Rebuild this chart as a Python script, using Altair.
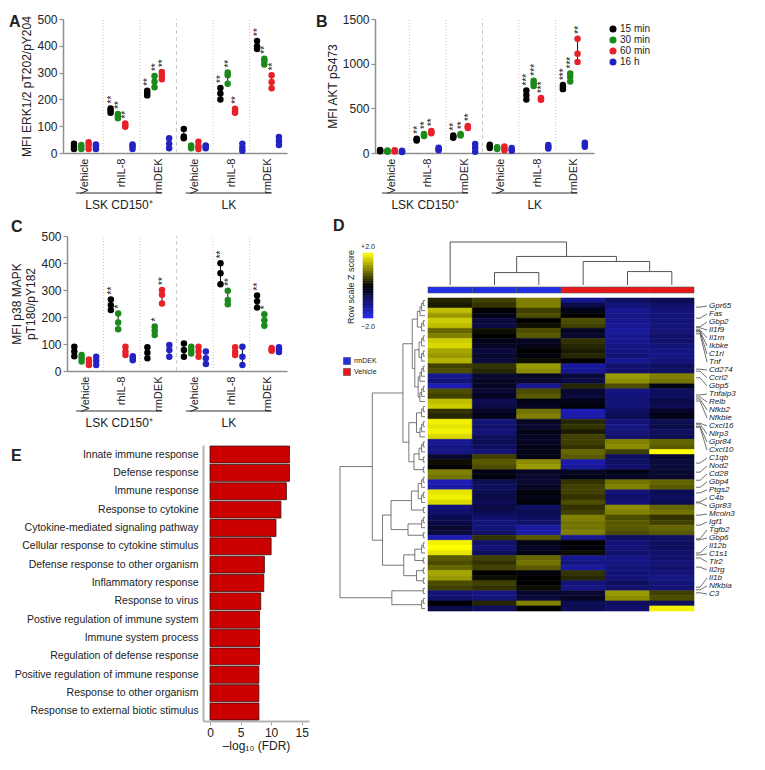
import altair as alt
import pandas as pd
import numpy as np

W, H = 749, 754
FONT = "Liberation Sans"
TXT = "#222222"
AXC = "#8f8f8f"


def P(v):
    """page pixel -> chart pixel (page has an 8px margin)"""
    return v - 8


# ---------------------------------------------------------------- data
times = ["15 min", "30 min", "60 min", "16 h"]
time_colors = ["#000000", "#1b8a1b", "#e8202a", "#2323c4"]
conditions = ["Vehicle", "rhIL-8", "rmDEK"]
cell_types = ["LSK CD150\u207a", "LK"]

# replicate triplets; order: cell type -> condition -> time point
erk_values = [
    [15, 25, 35], [15, 22, 30], [15, 30, 40], [15, 25, 32],
    [150, 158, 166], [130, 138, 146], [98, 104, 110], [15, 25, 32],
    [215, 224, 232], [245, 266, 287], [275, 288, 302], [18, 35, 55],
    [55, 62, 90], [18, 22, 28], [15, 25, 42], [18, 24, 28],
    [200, 222, 243], [258, 290, 300], [150, 158, 165], [8, 20, 35],
    [388, 398, 418], [330, 343, 352], [242, 265, 290], [30, 45, 60],
]
erk_stars = ["", "", "", "",
             "**", "**", "**", "",
             "**", "**", "**", "",
             "", "", "", "",
             "**", "**", "**", "",
             "**", "**", "**", ""]

akt_values = [
    [20, 28, 35], [15, 22, 28], [18, 25, 30], [12, 18, 24],
    [140, 150, 160], [190, 200, 212], [220, 232, 245], [30, 45, 60],
    [170, 182, 195], [195, 203, 212], [280, 292, 302], [15, 60, 100],
    [55, 75, 92], [45, 55, 65], [30, 50, 72], [25, 40, 55],
    [600, 650, 700], [750, 780, 810], [595, 605, 615], [50, 70, 90],
    [715, 740, 760], [800, 850, 890], [1020, 1110, 1280], [70, 95, 115],
]
akt_stars = ["", "", "", "",
             "**", "**", "**", "",
             "**", "**", "**", "",
             "", "", "", "",
             "***", "***", "***", "",
             "***", "***", "**", ""]

p38_values = [
    [55, 72, 90], [35, 47, 59], [22, 31, 43], [22, 38, 53],
    [226, 244, 265], [155, 180, 213], [59, 72, 90], [40, 48, 55],
    [47, 68, 88], [133, 150, 165], [250, 282, 300], [53, 78, 96],
    [53, 78, 102], [65, 78, 90], [53, 72, 90], [26, 47, 72],
    [321, 362, 399], [247, 263, 297], [59, 70, 88], [22, 53, 90],
    [235, 258, 280], [168, 188, 210], [75, 80, 85], [70, 78, 88],
]
p38_stars = ["", "", "", "",
             "**", "*", "", "",
             "", "*", "**", "",
             "", "", "", "",
             "**", "**", "", "",
             "**", "*", "", ""]

go_terms = [
    "Innate immune response", "Defense response", "Immune response",
    "Response to cytokine", "Cytokine-mediated signaling pathway",
    "Cellular response to cytokine stimulus",
    "Defense response to other organism", "Inflammatory response",
    "Response to virus", "Postive regulation of immune system",
    "Immune system process", "Regulation of defense response",
    "Positive regulation of immune response", "Response to other organism",
    "Response to external biotic stimulus",
]
go_fdr = [13.0, 13.0, 12.5, 11.6, 10.8, 10.0, 8.9, 8.8, 8.3, 8.1, 8.1, 8.1,
          8.0, 8.0, 8.0]

heat_samples = ["rmDEK", "rmDEK", "rmDEK", "Vehicle", "Vehicle", "Vehicle"]
heat_rows = [
    [0.3, 0.5, 1.0, -1.2, -0.8, -0.7], [0.2, 0.4, 1.0, -0.6, -1.0, -0.9],
    [1.5, 0.0, 0.5, -0.2, -1.2, -1.0], [1.2, -0.2, 0.6, 0.0, -1.1, -1.0],
    [1.6, -0.5, 0.0, 0.6, -1.2, -1.0], [1.5, -0.6, 0.1, 0.5, -1.2, -1.0],
    [0.8, 0.1, 0.6, -0.3, -1.3, -1.0], [1.0, 0.0, 0.7, -0.4, -1.2, -0.9],
    [1.6, -0.2, -0.3, 0.4, -1.2, -0.9], [1.7, -0.3, -0.2, 0.3, -1.1, -1.0],
    [1.3, -0.5, 0.0, 0.2, -1.1, -1.1], [1.2, -0.4, -0.1, 0.3, -1.0, -1.1],
    [1.4, -0.5, 0.1, 0.0, -1.2, -1.0], [0.5, 0.4, 1.2, -1.3, -0.9, -0.8],
    [0.6, 0.3, 1.1, -1.2, -0.9, -0.8], [-1.2, -0.4, -0.3, -0.5, 1.2, 1.0],
    [-1.0, -0.3, -0.4, -0.6, 1.1, 0.9], [-1.5, -0.3, -1.2, 0.3, 0.6, -0.2],
    [0.6, -0.4, 0.6, -0.4, -1.1, -0.8], [0.5, -0.3, 0.7, -0.5, -1.0, -0.8],
    [1.5, -0.7, -0.2, -0.2, -1.0, -0.6], [1.6, -0.6, -0.3, -0.1, -1.0, -0.7],
    [0.4, -0.3, 0.9, -1.5, -0.8, -0.3], [0.3, -0.2, 1.0, -1.4, -0.7, -0.2],
    [1.9, -1.0, -0.3, 0.3, -1.0, -0.7], [1.8, -0.9, -0.4, 0.4, -1.1, -0.6],
    [1.9, -1.0, -0.2, 0.2, -1.0, -0.8], [1.7, -0.8, -0.3, 0.5, -0.9, -0.7],
    [-1.2, -0.7, -0.3, 0.5, 1.0, 0.8], [-1.1, -0.8, -0.2, 0.4, 1.1, 0.7],
    [-1.1, -1.0, -0.2, 0.8, 0.5, 2.0], [-0.4, 0.5, -0.2, 0.7, -0.8, -0.4],
    [0.1, 0.7, 1.1, -1.4, -0.8, -0.5], [0.0, 0.6, 1.2, -1.3, -0.9, -0.5],
    [1.0, -0.2, -0.3, -0.3, -0.2, -0.4], [0.9, -0.1, -0.4, -0.2, -0.3, -0.4],
    [-1.5, -0.7, -0.4, 0.4, 0.9, 0.8], [-1.4, -0.8, -0.3, 0.5, 1.0, 0.7],
    [1.8, -0.7, -0.1, 0.5, -1.0, -0.7], [1.9, -0.6, -0.2, 0.4, -0.9, -0.8],
    [1.7, -0.7, -0.1, 0.6, -1.0, -0.7], [-1.0, -0.6, -0.8, 0.4, 1.1, 0.8],
    [-0.9, -0.7, -0.7, 0.5, 1.0, 0.9], [-0.7, -0.9, -0.8, 1.0, 0.6, 0.4],
    [-0.6, -1.0, -0.9, 0.9, 0.7, 0.5], [-0.4, -1.0, -1.3, 0.9, 0.7, 0.8],
    [-0.5, -0.9, -1.4, 1.0, 0.6, 0.7], [-1.5, 0.4, 0.7, -1.2, -0.8, -0.8],
    [1.9, -0.9, -0.2, 0.0, -1.0, -0.8], [2.0, -1.0, -0.3, -0.1, -1.0, -0.8],
    [1.8, -0.8, -0.2, 0.1, -0.9, -0.9], [0.7, 0.5, 0.8, -1.2, -1.1, -0.9],
    [0.6, 0.4, 0.9, -1.1, -1.1, -1.0], [0.8, 0.5, 0.7, -1.3, -1.0, -0.9],
    [1.3, 0.0, -0.1, 0.4, -1.0, -1.0], [1.2, 0.1, 0.0, 0.3, -1.0, -1.1],
    [0.6, 0.5, 0.0, -1.0, -0.8, -1.0], [0.5, 0.4, 0.1, -1.1, -0.9, -1.0],
    [-1.0, -1.1, -0.4, -0.4, 1.2, 0.5], [-0.9, -1.0, -0.5, -0.3, 1.1, 0.6],
    [0.0, 0.3, 1.0, -0.7, -0.8, -0.8], [-0.6, -0.8, 0.0, -0.7, -0.9, 1.9],
]

# dendrograms: (merge height, left, right); an int n = n adjacent leaves
col_tree = (128, 1, (85, (37, 1, 1), (70, 1, (40, 1, 1))))
row_tree = (1.0,
            (0.62,
             (0.26,
              (0.15, (0.09, 4, 3), (0.12, (0.07, 3, 3), (0.08, 4, 4))),
              (0.19, (0.10, 3, 4), (0.13, (0.07, 3, 2), 2))),
             (0.50,
              (0.40, (0.16, (0.08, 3, 3), 2), (0.20, 3, 2)),
              (0.25, (0.12, 3, 2), (0.10, 2, 2)))),
            (0.39, 2, 3))

gene_labels = ["Gpr65", "Fas", "Gbp2", "Il1f9", "Il1rn", "Ikbke", "C1rl", "Tnf",
               "Cd274", "Ccrl2", "Gbp5", "Tnfaip3", "Relb", "Nfkb2", "Nfkbie",
               "Cxcl16", "Nlrp3", "Gpr84", "Cxcl10", "C1qb", "Nod2", "Cd28",
               "Gbp4", "Ptgs2", "C4b", "Gpr83", "Mcoln3", "Igf1", "Tgfb2",
               "Gbp6", "Il12b", "C1s1", "Tlr2", "Il2rg", "Il1b", "Nfkbia", "C3"]
gene_rows = [1.8, 4.0, 5.7, 5.9, 6.3, 6.5, 6.7, 7.1, 14.1, 14.5, 15.8, 19.2,
             19.6, 20.0, 20.4, 24.8, 25.0, 25.4, 25.6, 32.7, 34.5, 36.1, 37.5,
             38.6, 40.4, 40.6, 43.0, 45.0, 47.7, 47.9, 50.5, 50.9, 51.5, 53.3,
             57.3, 57.8, 58.4]

# ---------------------------------------------------------------- helpers
label_expr = "[" + ",".join("'%s'" % c for c in conditions * 2) + "][floor(datum.value)]"


def one():
    return alt.Data(values=[{"k": 0}])


def dot_panel(values, stars, ymax, ystep, ytitle, ytop, ybase, xdom, xleft, xright,
              under_y, label_y, legend):
    rows, summ = [], []
    for gi in range(6):
        for ti in range(4):
            trip = values[gi * 4 + ti]
            pos = gi + 0.5 + (ti - 1.5) * 0.2
            for v in trip:
                rows.append({"pos": pos, "v": v, "time": times[ti]})
            summ.append({"pos": pos, "lo": min(trip), "hi": max(trip),
                         "star": stars[gi * 4 + ti]})
    pts = pd.DataFrame(rows)
    sm = pd.DataFrame(summ)
    st = sm[sm["star"] != ""]
    xs = alt.Scale(domain=xdom, range=[P(xleft), P(xright)], nice=False, zero=False)
    ys = alt.Scale(domain=[0, ymax], range=[P(ybase), P(ytop)], nice=False, zero=False)
    xaxis = alt.Axis(orient="bottom", offset=P(ybase) - H,
                     values=[i + 0.5 for i in range(6)], labelExpr=label_expr,
                     labelAngle=270, labelAlign="right", labelBaseline="middle",
                     labelFontSize=11, labelColor=TXT, tickSize=0,
                     labelPadding=5, domainColor=AXC, domainWidth=1.5, grid=False,
                     title=None)
    yaxis = alt.Axis(orient="left", offset=-P(xleft), format="d",
                     values=list(range(0, ymax + 1, ystep)), labelFontSize=12,
                     labelColor=TXT, tickSize=4, tickColor=AXC, tickWidth=1.2,
                     domainColor=AXC, domainWidth=1.5, labelPadding=2, grid=False,
                     title=ytitle, titleFontSize=12, titleFontWeight="normal",
                     titleColor=TXT, titlePadding=3)
    div = pd.DataFrame({"b": [1, 2, 4, 5], "y0": 0, "y1": ymax})
    div2 = pd.DataFrame({"b": [3], "y0": 0, "y1": ymax})
    groups = pd.DataFrame({"s": [0.25, 3.25], "e": [2.6, 5.6],
                           "m": [1.43, 4.43], "label": cell_types})
    out = [
        alt.Chart(div).mark_rule(color="#c8c8c8", strokeWidth=1, strokeDash=[1, 2]).encode(
            x=alt.X("b:Q", scale=xs, axis=None),
            y=alt.Y("y0:Q", scale=ys, axis=None), y2="y1:Q"),
        alt.Chart(div2).mark_rule(color="#c8c8c8", strokeWidth=1, strokeDash=[4, 3]).encode(
            x=alt.X("b:Q", scale=xs, axis=None),
            y=alt.Y("y0:Q", scale=ys, axis=None), y2="y1:Q"),
        alt.Chart(sm).mark_rule(color="#111111", strokeWidth=1).encode(
            x=alt.X("pos:Q", scale=xs, axis=None),
            y=alt.Y("lo:Q", scale=ys, axis=None), y2="hi:Q"),
        alt.Chart(pts).mark_circle(size=42, opacity=1).encode(
            x=alt.X("pos:Q", scale=xs, axis=xaxis),
            y=alt.Y("v:Q", scale=ys, axis=yaxis),
            color=alt.Color("time:N", scale=alt.Scale(domain=times, range=time_colors),
                            legend=legend)),
        alt.Chart(st).mark_text(angle=270, align="left", baseline="middle", dx=5, dy=1,
                                fontSize=10, color="#111111").encode(
            x=alt.X("pos:Q", scale=xs, axis=None),
            y=alt.Y("hi:Q", scale=ys, axis=None), text="star:N"),
        alt.Chart(groups).mark_rule(color="#333333", strokeWidth=1).encode(
            x=alt.X("s:Q", scale=xs, axis=None), x2="e:Q", y=alt.value(P(under_y))),
        alt.Chart(groups).mark_text(fontSize=12, color=TXT, baseline="middle").encode(
            x=alt.X("m:Q", scale=xs, axis=None), y=alt.value(P(label_y)),
            text="label:N"),
    ]
    return out


def dendro(node, start, segs):
    """returns (centre position, height, next leaf index); segs get (h1, p1, h2, p2)"""
    if isinstance(node, int):
        centres = [start + i + 0.5 for i in range(node)]
        c, h = centres[0], 0.0
        for i in range(1, node):
            nh = 0.02 * i
            segs.append((h, c, nh, c))
            segs.append((0.0, centres[i], nh, centres[i]))
            segs.append((nh, c, nh, centres[i]))
            c, h = (c + centres[i]) / 2, nh
        return c, h, start + node
    h, left, right = node
    cl, hl, s = dendro(left, start, segs)
    cr, hr, s = dendro(right, s, segs)
    segs.append((hl, cl, h, cl))
    segs.append((hr, cr, h, cr))
    segs.append((h, cl, h, cr))
    return (cl + cr) / 2, h, s


layers = []

# ---------------------------------------------------------------- A, B, C
time_legend = alt.Legend(orient="none", legendX=P(608), legendY=P(24), title=None,
                         labelFontSize=10, labelColor=TXT, symbolSize=50,
                         symbolType="circle", symbolStrokeWidth=0, rowPadding=1,
                         labelOffset=2, padding=0)
layers += dot_panel(erk_values, erk_stars, 500, 100, "MFI ERK1/2 pT202/pY204",
                    19, 153, [-0.1, 6.02], 63, 287, 193, 205, time_legend)
layers += dot_panel(akt_values, akt_stars, 1500, 500, "MFI  AKT pS473",
                    19, 153, [0.06, 6.05], 375, 594, 193, 205, None)
layers += dot_panel(p38_values, p38_stars, 500, 100, ["MFI p38 MAPK", "pT180/pY182"],
                    236, 371, [0.0, 6.02], 67, 287, 411, 423, None)

# ---------------------------------------------------------------- E
df_e = pd.DataFrame({"term": go_terms, "v": go_fdr})
layers.append(
    alt.Chart(df_e).mark_bar(color="#cc0000", stroke="#3b0a0a", strokeWidth=0.8).encode(
        x=alt.X("v:Q",
                scale=alt.Scale(domain=[-1.15, 16.2], range=[P(203), P(309)],
                                nice=False, zero=False),
                axis=alt.Axis(orient="bottom", offset=P(721) - H, values=[0, 5, 10, 15],
                              labelFontSize=12, labelColor=TXT, tickSize=4,
                              tickColor="#aaaaaa", domainColor="#b5b5b5", domainWidth=2,
                              title="\u2013log\u2081\u2080 (FDR)", titleFontSize=12,
                              titleFontWeight="normal", titleColor=TXT, titlePadding=2,
                              grid=False)),
        x2=alt.datum(0),
        y=alt.Y("term:N", sort=go_terms,
                scale=alt.Scale(domain=go_terms, range=[P(445), P(721)],
                                paddingInner=0.08, paddingOuter=0.06),
                axis=alt.Axis(orient="left", offset=-P(203), labelFontSize=10.5,
                              labelColor=TXT, tickSize=0, domainColor="#b5b5b5",
                              domainWidth=2, labelPadding=5, title=None, labelLimit=0,
                              grid=False)),
    )
)

# ---------------------------------------------------------------- D
NR = len(heat_rows)
heat_scale = alt.Scale(domain=[-2, 0, 2], range=["#2626f0", "#000000", "#ffff00"],
                       interpolate="rgb", clamp=True)
col_scale = alt.Scale(domain=[0, 6], range=[P(428), P(694)], nice=False, zero=False)
row_scale = alt.Scale(domain=[0, NR], range=[P(298), P(611)], nice=False, zero=False)

hm = pd.DataFrame([{"c": c, "c1": c + 1, "r": r, "r1": r + 1, "z": heat_rows[r][c]}
                   for r in range(NR) for c in range(6)])
layers.append(
    alt.Chart(hm).mark_rect(strokeWidth=0.6).encode(
        x=alt.X("c:Q", scale=col_scale, axis=None), x2="c1:Q",
        y=alt.Y("r:Q", scale=row_scale, axis=None), y2="r1:Q",
        color=alt.Color("z:Q", scale=heat_scale, legend=None),
        stroke=alt.Stroke("z:Q", scale=heat_scale, legend=None)))

# sample colour bar with legend
samp = pd.DataFrame({"c": list(range(6)), "c1": [i + 1 for i in range(6)],
                     "grp": heat_samples})
layers.append(
    alt.Chart(samp).mark_rect(stroke="#555555", strokeWidth=0.6).encode(
        x=alt.X("c:Q", scale=col_scale, axis=None), x2="c1:Q",
        y=alt.value(P(287)), y2=alt.value(P(293)),
        color=alt.Color("grp:N",
                        scale=alt.Scale(domain=["rmDEK", "Vehicle"],
                                        range=["#1f2fe8", "#e81818"]),
                        legend=alt.Legend(orient="none", legendX=P(343), legendY=P(357),
                                          title=None, symbolType="square",
                                          symbolSize=50, labelFontSize=7,
                                          labelColor=TXT, symbolStrokeColor="#333333",
                                          symbolStrokeWidth=0.5, rowPadding=1,
                                          labelOffset=3, padding=0))))

# column dendrogram
csegs = []
dendro(col_tree, 0, csegs)
cdf = pd.DataFrame(csegs, columns=["h1", "p1", "h2", "p2"])
layers.append(
    alt.Chart(cdf).mark_rule(color="#555555", strokeWidth=1).encode(
        x=alt.X("p1:Q", scale=col_scale, axis=None), x2="p2:Q",
        y=alt.Y("h1:Q", scale=alt.Scale(domain=[0, 128], range=[P(285), P(242)],
                                         nice=False, zero=False), axis=None),
        y2="h2:Q"))

# row dendrogram
rsegs = []
dendro(row_tree, 0, rsegs)
rdf = pd.DataFrame(rsegs, columns=["h1", "p1", "h2", "p2"])
layers.append(
    alt.Chart(rdf).mark_rule(color="#555555", strokeWidth=0.8).encode(
        x=alt.X("h1:Q", scale=alt.Scale(domain=[0, 1], range=[P(425), P(340)],
                                         nice=False, zero=False), axis=None),
        x2="h2:Q",
        y=alt.Y("p1:Q", scale=row_scale, axis=None), y2="p2:Q"))

# gene labels with leader lines
slot = [(k + 1) * 8 * NR / 313 for k in range(len(gene_labels))]
gl = pd.DataFrame({"gene": gene_labels, "row": gene_rows, "slot": slot})
layers.append(
    alt.Chart(gl).mark_rule(color="#333333", strokeWidth=0.7).encode(
        x=alt.value(P(696)), x2=alt.value(P(700)),
        y=alt.Y("row:Q", scale=row_scale, axis=None), y2="row:Q"))
layers.append(
    alt.Chart(gl).mark_rule(color="#333333", strokeWidth=0.7).encode(
        x=alt.value(P(700)), x2=alt.value(P(707)),
        y=alt.Y("row:Q", scale=row_scale, axis=None), y2="slot:Q"))
layers.append(
    alt.Chart(gl).mark_text(align="left", baseline="middle", fontSize=8,
                            fontStyle="italic", color=TXT).encode(
        x=alt.value(P(709)), y=alt.Y("slot:Q", scale=row_scale, axis=None),
        text="gene:N"))

# Z-score colour ramp
ramp = pd.DataFrame({"z": np.round(np.arange(-2.0, 2.0, 0.1), 2)})
ramp["z1"] = ramp["z"] + 0.1
ramp["zc"] = ramp["z"] + 0.05
layers.append(
    alt.Chart(ramp).mark_rect(strokeWidth=0.6).encode(
        x=alt.value(P(363)), x2=alt.value(P(373)),
        y=alt.Y("z:Q", scale=alt.Scale(domain=[-2, 2], range=[P(318), P(253)],
                                        nice=False, zero=False), axis=None),
        y2="z1:Q",
        color=alt.Color("zc:Q", scale=heat_scale, legend=None),
        stroke=alt.Stroke("zc:Q", scale=heat_scale, legend=None)))


def txt(s, x, y, size, **kw):
    return alt.Chart(one()).mark_text(fontSize=size, color=TXT, **kw).encode(
        x=alt.value(P(x)), y=alt.value(P(y)), text=alt.value(s))


layers += [
    txt("+2.0", 368, 247, 7, align="center", baseline="middle"),
    txt("\u22122.0", 368, 327, 7, align="center", baseline="middle"),
    txt("Row scale Z score", 351, 287, 9, angle=270, align="center", baseline="middle"),
]

# panel letters
for letter, x, y in [("A", 9, 27), ("B", 316, 27), ("C", 11, 232), ("D", 333, 231),
                     ("E", 11, 461)]:
    layers.append(txt(letter, x, y, 16, align="left", baseline="alphabetic",
                      fontWeight="bold"))

chart = alt.layer(*layers).resolve_scale(
    x="independent", y="independent", color="independent", stroke="independent"
).properties(
    width=W, height=H, padding=0, autosize=alt.AutoSizeParams(type="none")
).configure(font=FONT, view=alt.ViewConfig(stroke=None))

chart.save("out.html", embed_options={"renderer": "svg", "actions": False})
